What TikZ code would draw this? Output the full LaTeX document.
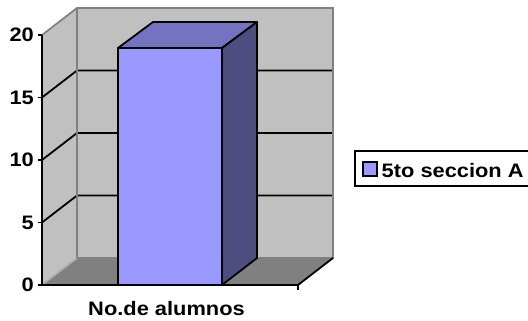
\documentclass[tikz,border=0pt]{standalone}
\usepackage{fontspec}
\newfontfamily\chartfont[FakeStretch=1.12]{Liberation Sans}
\definecolor{wallc}{RGB}{192,192,192}
\definecolor{floorc}{RGB}{128,128,128}
\definecolor{edgec}{RGB}{128,128,128}
\definecolor{barfront}{RGB}{153,153,255}
\definecolor{bartop}{RGB}{115,115,191}
\definecolor{barside}{RGB}{77,77,128}
\tikzset{
  wallfill/.style={fill=wallc},
  walledge/.style={draw=edgec, line width=1.7pt},
  gridln/.style={draw=black, line width=1.8pt},
  axisln/.style={draw=black, line width=1.8pt},
  barface/.style={draw=black, line width=1.8pt, line join=round},
  lbl/.style={font=\chartfont\bfseries\fontsize{19.5}{21}\selectfont, inner sep=0pt, text=black},
}
\begin{document}
\begin{tikzpicture}[x=1pt,y=-1pt]
\useasboundingbox (0,0) rectangle (528,321);
% walls and floor
\fill[wallfill] (42,35) -- (77,8) -- (77,258) -- (42,285) -- cycle;
\fill[wallfill] (77,8) rectangle (333,258);
\fill[floorc] (42,285) -- (77,258) -- (333,258) -- (298,285) -- cycle;
% gridlines
\foreach \v in {5,10,15}{
  \draw[gridln] (42,{285-12.5*\v}) -- (77,{258-12.5*\v}) -- (333,{258-12.5*\v});
}
% wall edges
\draw[walledge] (42,35) -- (77,8) -- (333,8) -- (333,258) -- (77,258);
\draw[walledge] (77,8) -- (77,258);
\draw[walledge, draw=wallc!70!gray] (42,285) -- (77,258);
\draw[axisln] (298,285) -- (333,258);
% axes
\draw[axisln] (42,35) -- (42,285) -- (298,285);
\foreach \v in {0,5,10,15,20}{
  \draw[axisln] (37.5,{285-12.5*\v}) -- (42,{285-12.5*\v});
}
\draw[axisln] (298,285) -- (298,290);
% bar
\filldraw[barface, fill=barfront] (118,48) rectangle (222,285);
\filldraw[barface, fill=bartop] (118,48) -- (153,22) -- (257,22) -- (222,48) -- cycle;
\filldraw[barface, fill=barside] (222,48) -- (257,22) -- (257,258) -- (222,285) -- cycle;
% tick labels
\foreach \v/\n in {0/t0,5/t5,10/t10,15/t15,20/t20}{
  \node[lbl, anchor=east] (\n) at (34,{285-12.5*\v}) {\v};
}
% category label
\node[lbl, anchor=base] (cat) at (166.5,315) {No.de alumnos};
% legend
\draw[line width=1.9pt] (355,151) rectangle (530,186);
\filldraw[draw=black, line width=1.4pt, fill=barfront] (363,162) rectangle (377,176);
\node[lbl, anchor=base west] (leg) at (381.5,177) {5to seccion A};
\end{tikzpicture}
\end{document}
